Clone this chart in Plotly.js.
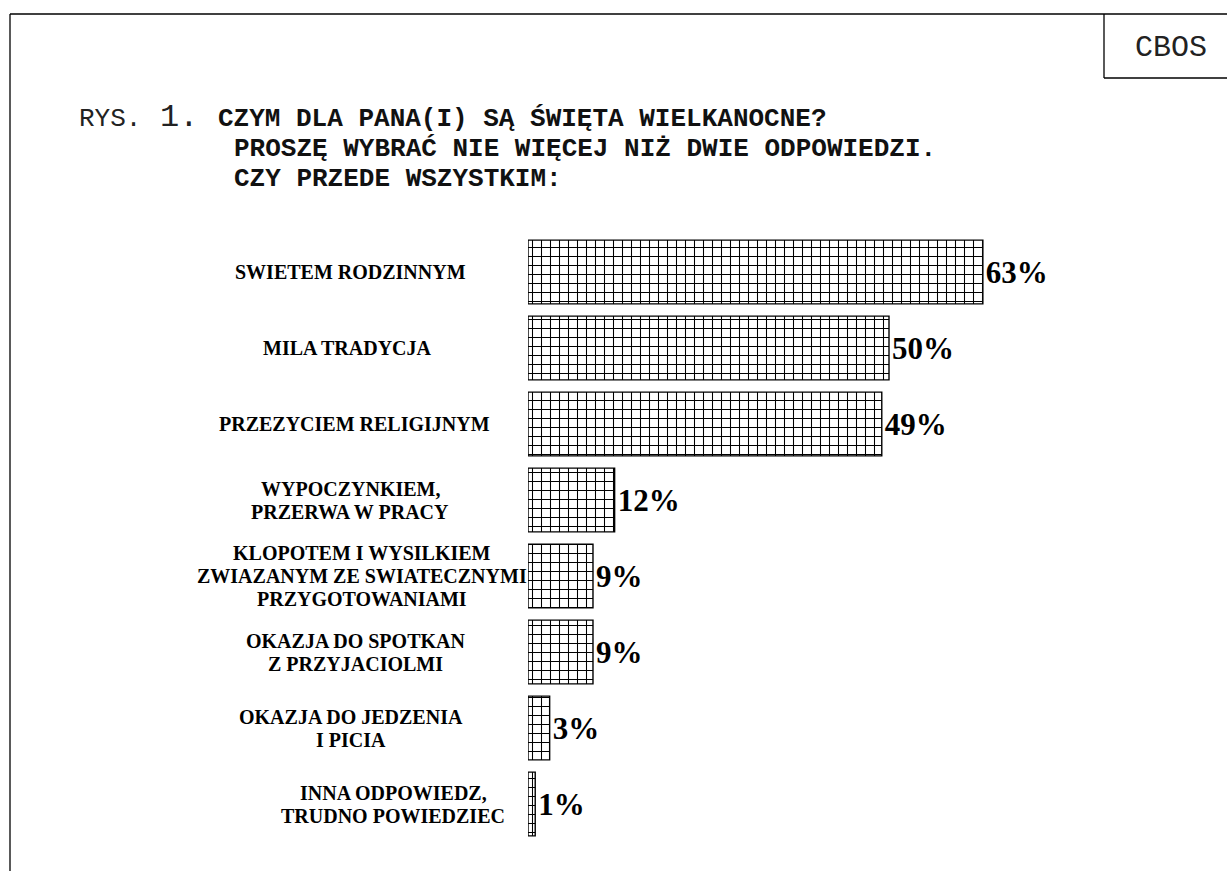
<!DOCTYPE html>
<html>
<head>
<meta charset="utf-8">
<script src="https://cdn.plot.ly/plotly-3.0.1.min.js"></script>
<style>
  html, body { margin: 0; padding: 0; background: #ffffff; }
  #chart { width: 1227px; height: 871px; }
</style>
</head>
<body>
<div id="chart"></div>
<script>
// ---- DATA ----
const categories = [
  "SWIETEM RODZINNYM",
  "MILA TRADYCJA",
  "PRZEZYCIEM RELIGIJNYM",
  "WYPOCZYNKIEM,<br>PRZERWA W PRACY",
  "KLOPOTEM I WYSILKIEM<br>ZWIAZANYM ZE SWIATECZNYMI<br>PRZYGOTOWANIAMI",
  "OKAZJA DO SPOTKAN<br>Z PRZYJACIOLMI",
  "OKAZJA DO JEDZENIA<br>I PICIA",
  "INNA ODPOWIEDZ,<br>TRUDNO POWIEDZIEC"
];
const values = [63, 50, 49, 12, 9, 9, 3, 1];
const titleLines = [
  "CZYM DLA PANA(I) SĄ ŚWIĘTA WIELKANOCNE?",
  "PROSZĘ WYBRAĆ NIE WIĘCEJ NIŻ DWIE ODPOWIEDZI.",
  "CZY PRZEDE WSZYSTKIM:"
];
const figurePrefix = "RYS.";
const figureNumber = "1.";
const sourceLabel = "CBOS";

// ---- LAYOUT HELPERS ----
const W = 1227, H = 871;
const M = { l: 528, r: 121, t: 234, b: 29 };
const PW = W - M.l - M.r, PH = H - M.t - M.b;
const px = v => (v - M.l) / PW;
const py = v => (H - M.b - v) / PH;

const serifBold = "Liberation Serif, Times New Roman, serif";
const mono = "Liberation Mono, Courier New, monospace";

const ids = categories.map((c, i) => i);
const labelCenters = [350, 347, 354, 350, 362, 355, 351, 393];
const labelLineGap = 23;

const trace = {
  type: "bar",
  orientation: "h",
  y: ids,
  x: values,
  text: values.map(v => v + "%"),
  textposition: "outside",
  cliponaxis: false,
  textfont: { family: serifBold, size: 31, color: "#000", weight: "bold" },
  marker: {
    color: "#ffffff",
    line: { color: "#000", width: 1.4 },
    pattern: { shape: "+", size: 9, solidity: 0.22, fgcolor: "#000", bgcolor: "#ffffff", fillmode: "replace" }
  },
  hoverinfo: "skip"
};

const annotations = [];
categories.forEach((c, i) => {
  const parts = c.split("<br>");
  const n = parts.length;
  parts.forEach((p, k) => {
    annotations.push({
      xref: "paper", yref: "y",
      x: px(labelCenters[i]), y: i,
      xanchor: "center", yanchor: "middle",
      yshift: ((n - 1) / 2 - k) * labelLineGap,
      text: "<b>" + p + "</b>",
      showarrow: false,
      font: { family: serifBold, size: 20, color: "#000" }
    });
  });
});

annotations.push({
  xref: "paper", yref: "paper", x: px(77), y: py(119),
  xanchor: "left", yanchor: "middle", showarrow: false,
  text: figurePrefix, font: { family: mono, size: 26, color: "#222" }
});
annotations.push({
  xref: "paper", yref: "paper", x: px(158), y: py(117),
  xanchor: "left", yanchor: "middle", showarrow: false,
  text: figureNumber, font: { family: mono, size: 32, color: "#222" }
});
const titleX = [216, 232, 232];
const titleY = [119, 149, 179];
titleLines.forEach((t, i) => {
  annotations.push({
    xref: "paper", yref: "paper", x: px(titleX[i]), y: py(titleY[i]),
    xanchor: "left", yanchor: "middle", showarrow: false,
    text: "<b>" + t + "</b>", font: { family: mono, size: 26, color: "#111" }
  });
});
annotations.push({
  xref: "paper", yref: "paper", x: px(1171), y: py(48),
  xanchor: "center", yanchor: "middle", showarrow: false,
  text: sourceLabel, font: { family: mono, size: 30, color: "#222" }
});

const line = { color: "#000", width: 1.3 };
const shapes = [
  { type: "line", xref: "paper", yref: "paper", x0: px(10), y0: py(14), x1: px(1227), y1: py(14), line },
  { type: "line", xref: "paper", yref: "paper", x0: px(10), y0: py(14), x1: px(10), y1: py(871), line },
  { type: "line", xref: "paper", yref: "paper", x0: px(1104), y0: py(14), x1: px(1104), y1: py(78), line },
  { type: "line", xref: "paper", yref: "paper", x0: px(1104), y0: py(78), x1: px(1227), y1: py(78), line }
];

const layout = {
  width: W, height: H,
  margin: M,
  paper_bgcolor: "#ffffff",
  plot_bgcolor: "#ffffff",
  showlegend: false,
  bargap: 0.16,
  xaxis: { range: [0, PW / 7.22], visible: false, fixedrange: true },
  yaxis: { type: "linear", range: [7.5, -0.5], visible: false, fixedrange: true },
  annotations,
  shapes
};

Plotly.newPlot("chart", [trace], layout, { displayModeBar: false, staticPlot: true });
</script>
</body>
</html>
